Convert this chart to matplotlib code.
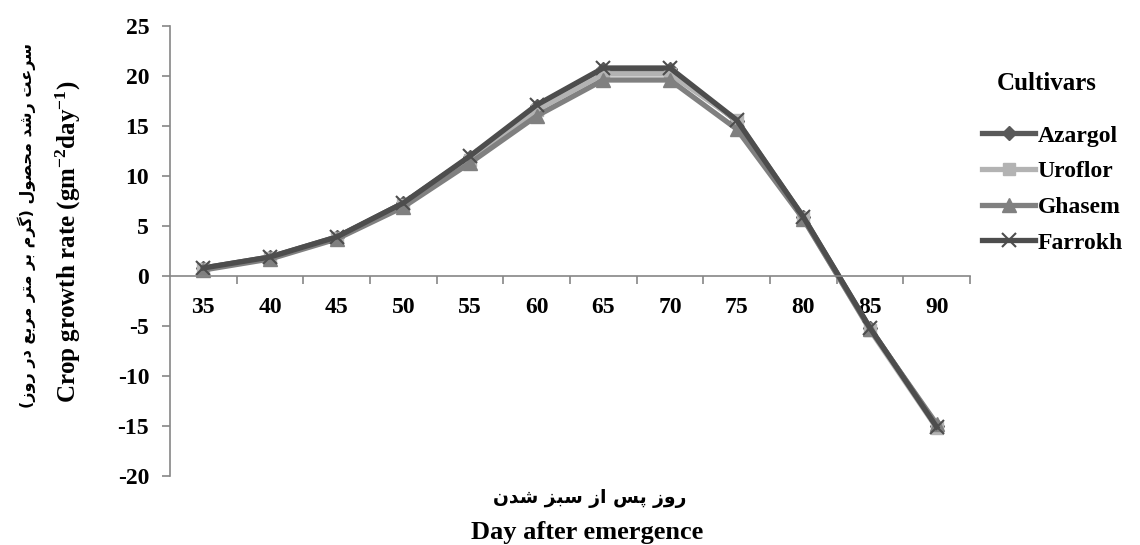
import matplotlib
matplotlib.use('Agg')  # noqa

import matplotlib.pyplot as plt  # noqa

days = [35, 40, 45, 50, 55, 60, 65, 70, 75, 80, 85, 90]
cultivars = ['Azargol', 'Uroflor', 'Ghasem', 'Farrokh']
azargol = [0.8, 1.9, 3.9, 7.3, 11.9, 17.0, 20.7, 20.7, 15.5, 5.9, -5.2, -15.0]
uroflor = [0.7, 1.8, 3.8, 7.1, 11.6, 16.6, 20.2, 20.2, 15.6, 5.8, -5.4, -15.2]
ghasem = [0.6, 1.7, 3.7, 6.9, 11.3, 16.0, 19.6, 19.6, 14.7, 5.7, -5.3, -14.8]
farrokh = [0.8, 1.9, 3.9, 7.3, 12.0, 17.1, 20.8, 20.8, 15.6, 5.9, -5.2, -15.1]
y_ticks = [-20, -15, -10, -5, 0, 5, 10, 15, 20, 25]

# Persian labels, hand-shaped into presentation forms in visual (LTR) order
fa_xlabel = ('\uFEE5\uFEAA\uFEB7 \uFEB0\uFE92\uFEB3 \uFEAF\uFE8D '
             '\uFEB2\uFB58 \uFEAF\uFEED\uFEAD')
fa_ylabel = ('(\uFEAF\uFEED\uFEAD \uFEAD\uFEA9 \uFECA\uFE91\uFEAE\uFEE3 '
             '\uFEAE\uFE98\uFEE3 \uFEAE\uFE91 \uFEE1\uFEAE\uFB94) '
             '\uFEDD\uFEEE\uFEBC\uFEA4\uFEE3 \uFEAA\uFEB7\uFEAD '
             '\uFE96\uFECB\uFEAE\uFEB3')

SERIF = 'Liberation Serif'
plt.rcParams['mathtext.fontset'] = 'custom'
plt.rcParams['mathtext.rm'] = 'Liberation Serif:bold'
plt.rcParams['mathtext.it'] = 'Liberation Serif:bold'
plt.rcParams['mathtext.bf'] = 'Liberation Serif:bold'
plt.rcParams['mathtext.default'] = 'rm'

styles = {
    'Azargol': dict(color='#595959', marker='D', ms=7),
    'Uroflor': dict(color='#b3b3b3', marker='s', ms=8),
    'Ghasem': dict(color='#808080', marker='^', ms=10),
    'Farrokh': dict(color='#4d4d4d', marker='x', ms=10, mew=1.5),
}
series = dict(zip(cultivars, [azargol, uroflor, ghasem, farrokh]))

fig = plt.figure(figsize=(11.4, 5.45), dpi=100)
ax = fig.add_axes([170 / 1140, 1 - 476 / 545, 800 / 1140, 450 / 545])

for side in ['top', 'right']:
    ax.spines[side].set_visible(False)
ax.spines['bottom'].set_position(('data', 0))
for side in ['bottom', 'left']:
    ax.spines[side].set_color('#868686')
    ax.spines[side].set_linewidth(1.2)

x = list(range(len(days)))
for name in cultivars:
    st = styles[name]
    ax.plot(x, series[name], color=st['color'], lw=3.8, marker=st['marker'],
            ms=st['ms'], mew=st.get('mew', 1), mec=st['color'],
            mfc=st['color'], label=name, solid_joinstyle='round')

ax.set_xlim(-0.5, len(days) - 0.5)
ax.set_ylim(-20, 25)
ax.set_yticks(y_ticks)
ax.set_yticklabels([str(v) for v in y_ticks], fontfamily=SERIF,
                   fontweight='bold', fontsize=17)
ax.set_xticks(x)
ax.set_xticklabels([str(d) for d in days], fontfamily=SERIF,
                   fontweight='bold', fontsize=17)
ax.tick_params(axis='x', length=0, pad=15)
ax.set_xticks([i + 0.5 for i in x], minor=True)
ax.tick_params(axis='x', which='minor', length=6, color='#868686',
               direction='out', width=1.2)
ax.tick_params(axis='y', length=6, color='#868686', width=1.2, pad=9)

leg = ax.legend(loc='upper left', bbox_to_anchor=(982 / 1140, 1 - 125 / 545),
                bbox_transform=fig.transFigure, frameon=False,
                borderpad=0, borderaxespad=0, handlelength=2.25,
                handletextpad=0.1, labelspacing=0.6,
                prop={'family': SERIF, 'weight': 'bold', 'size': 17})
fig.text(1047 / 1140, 1 - 84 / 545, 'Cultivars', ha='center', va='center',
         fontfamily=SERIF, fontweight='bold', fontsize=18)

fig.text(590 / 1140, 1 - 498 / 545, fa_xlabel, ha='center', va='center',
         fontfamily=['DejaVu Sans'], fontweight='bold', fontsize=13.5)
fig.text(587 / 1140, 1 - 533 / 545, 'Day after emergence', ha='center',
         va='center', fontfamily=SERIF, fontweight='bold', fontsize=19)
fig.text(27 / 1140, 1 - 226 / 545, fa_ylabel, ha='center', va='center',
         rotation=90, fontfamily=['DejaVu Sans'], fontweight='bold',
         fontsize=11.5)
fig.text(68 / 1140, 1 - 242 / 545, 'Crop growth rate (gm$^{-2}$day$^{-1}$)',
         ha='center', va='center', rotation=90, fontfamily=SERIF,
         fontweight='bold', fontsize=18)

plt.savefig('out.png')
